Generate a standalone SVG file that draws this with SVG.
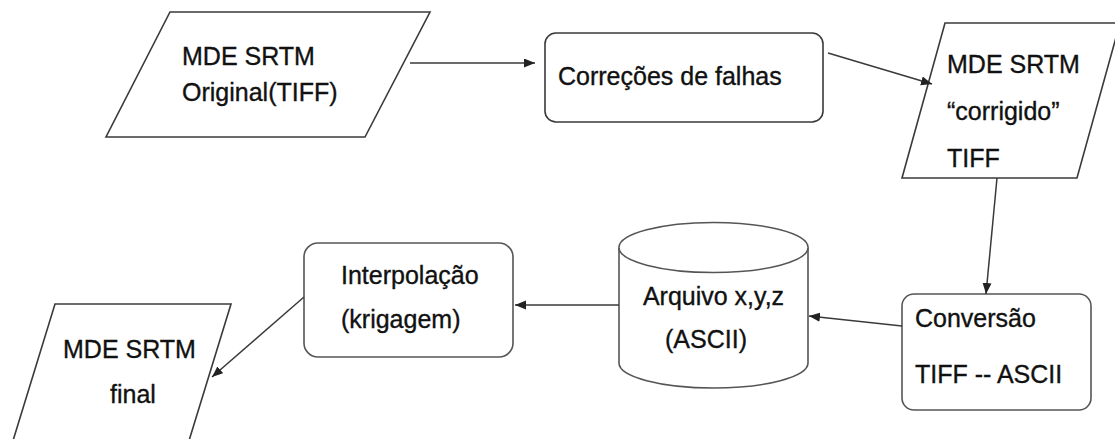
<svg xmlns="http://www.w3.org/2000/svg" width="1115" height="439" viewBox="0 0 1115 439">
<style>
  .shape { fill: #ffffff; stroke: #3a3a3a; stroke-width: 1.6; }
  .light { stroke: #555555; }
  .txt { font-family: "Liberation Sans", Arial, sans-serif; font-size: 25px; fill: #111111; stroke: #111111; stroke-width: 0.35; }
  .conn { stroke: #3a3a3a; stroke-width: 1.5; fill: none; marker-end: url(#arrow); }
</style>
<defs>
  <marker id="arrow" markerUnits="userSpaceOnUse" markerWidth="12" markerHeight="10" refX="11" refY="4.5" orient="auto">
    <path d="M0,0 L11,4.5 L0,9 Z" fill="#222222"/>
  </marker>
</defs>
<rect width="1115" height="439" fill="#ffffff"/>

<g id="node-mde-original">
  <polygon class="shape" points="170,12 430,12 365,137 106,137" stroke-width="2"/>
  <text class="txt" x="182" y="65">MDE SRTM</text>
  <text class="txt" x="182" y="101">Original(TIFF)</text>
</g>

<g id="node-correcoes">
  <rect class="shape" x="545" y="33" width="278" height="89" rx="11" ry="11" stroke-width="2"/>
  <text class="txt" x="558" y="85">Correções de falhas</text>
</g>

<g id="node-mde-corrigido">
  <polygon class="shape" points="945,23 1120,23 1077,178 902,178"/>
  <text class="txt" x="947" y="73">MDE SRTM</text>
  <text class="txt" x="947" y="120">“corrigido”</text>
  <text class="txt" x="947" y="167">TIFF</text>
</g>

<g id="node-conversao">
  <rect class="shape light" x="902" y="294" width="189" height="116" rx="12" ry="12"/>
  <text class="txt" x="915" y="327">Conversão</text>
  <text class="txt" x="915" y="383">TIFF -- ASCII</text>
</g>

<g id="node-arquivo">
  <path class="shape light" d="M619,247.5 L619,363 A94.5,25 0 0 0 808,363 L808,247.5 A94.5,25 0 0 0 619,247.5 Z"/>
  <path class="shape light" d="M619,247.5 A94.5,25 0 0 0 808,247.5" fill="none"/>
  <text class="txt" x="713.5" y="305" text-anchor="middle">Arquivo x,y,z</text>
  <text class="txt" x="706" y="348" text-anchor="middle">(ASCII)</text>
</g>

<g id="node-interpolacao">
  <rect class="shape light" x="304" y="243" width="209" height="114" rx="14" ry="14"/>
  <text class="txt" x="341" y="284">Interpolação</text>
  <text class="txt" x="341" y="328">(krigagem)</text>
</g>

<g id="node-mde-final">
  <polygon class="shape" points="55,304 231,304 180,470 4,470"/>
  <text class="txt" x="63" y="358">MDE SRTM</text>
  <text class="txt" x="110" y="403">final</text>
</g>

<g id="connectors">
  <line class="conn" x1="410" y1="63" x2="535" y2="63"/>
  <line class="conn" x1="828" y1="53" x2="932" y2="84"/>
  <line class="conn" x1="997" y1="178" x2="986" y2="294"/>
  <line class="conn" x1="902" y1="326" x2="809" y2="316"/>
  <line class="conn" x1="619" y1="305" x2="515" y2="305"/>
  <line class="conn" x1="304" y1="297" x2="212" y2="377"/>
</g>
</svg>
